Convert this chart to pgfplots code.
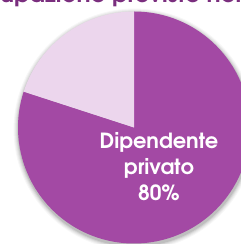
\documentclass[border=0pt]{standalone}
\usepackage{fontspec}
\setmainfont{texgyreadventor}[Extension=.otf, UprightFont=*-regular, BoldFont=*-bold]
\usepackage{pgfplots}
\pgfplotsset{compat=1.18}
\usepackage{pgfplotstable}
\definecolor{pieA}{RGB}{163,73,164}
\definecolor{pieB}{RGB}{236,214,237}
\definecolor{titlec}{RGB}{122,46,126}

\pgfplotstableread{
label share
Privato 80
Altro 20
}\piedata

\begin{document}
\begin{tikzpicture}
\pgfplotstablegetelem{0}{share}\of\piedata \pgfmathsetmacro\va{\pgfplotsretval}
\pgfplotstablegetelem{1}{share}\of\piedata \pgfmathsetmacro\vb{\pgfplotsretval}
\pgfmathsetmacro\endA{90-3.6*\va}
\pgfmathsetmacro\endB{90+3.6*\vb}
\begin{pgfinterruptboundingbox}
\begin{axis}[x=116bp, y=116bp, hide axis,
  xmin=-1, xmax=1, ymin=-1, ymax=1, clip=false]
\coordinate (O) at (axis cs:0,0);
\fill[black,opacity=0.03] (axis cs:0.005,-0.018) circle[radius=121bp];
\fill[black,opacity=0.04] (axis cs:0.005,-0.018) circle[radius=120bp];
\fill[black,opacity=0.05] (axis cs:0.005,-0.018) circle[radius=119bp];
\fill[black,opacity=0.07] (axis cs:0.005,-0.018) circle[radius=118bp];
\fill[black,opacity=0.09] (axis cs:0.005,-0.018) circle[radius=117bp];
\fill[pieA] (axis cs:0,0) -- (axis cs:0,1) arc[start angle=90, end angle=\endA, radius=116bp] -- cycle;
\fill[pieB] (axis cs:0,0) -- (axis cs:0,1) arc[start angle=90, end angle=\endB, radius=116bp] -- cycle;
\node[white, font=\bfseries\fontsize{21}{26}\selectfont, align=center] at (axis cs:0.215,-0.34) {Dipendente\\privato\\80\%};
\end{axis}
\end{pgfinterruptboundingbox}
\useasboundingbox ([shift={(-134bp,-116.5bp)}]O) rectangle ++(241bp,244bp);
\node[anchor=base west, titlec, font=\bfseries\fontsize{23.5}{28}\selectfont, inner sep=0] at ([shift={(-134bp,125bp)}]O) {\llap{Occ}upazione previste nel};
\end{tikzpicture}
\end{document}
